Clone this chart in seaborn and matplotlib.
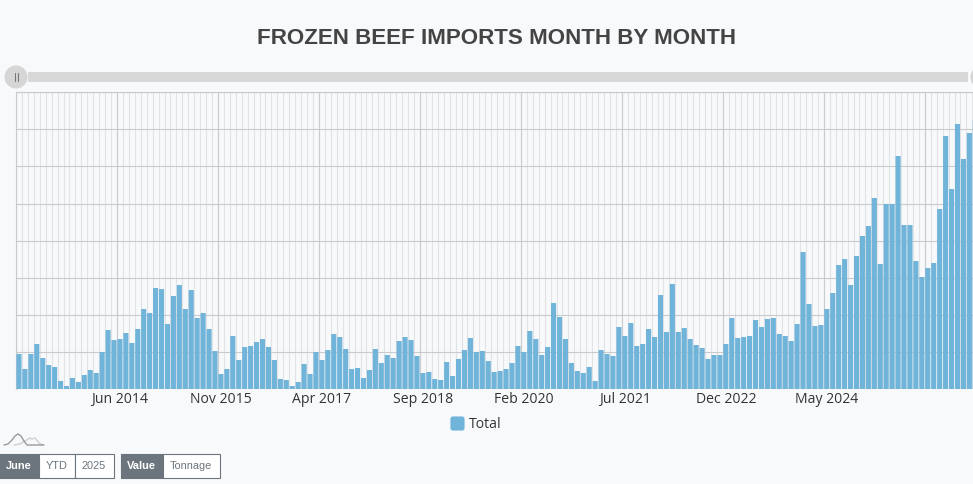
import matplotlib
matplotlib.use("Agg")
import matplotlib.pyplot as plt
from matplotlib.patches import Circle, FancyBboxPatch, Rectangle
import numpy as np
import pandas as pd
import seaborn as sns

# Monthly totals (y axis has no labels, so units are relative)
total = [
    35, 20, 35, 45, 31, 24, 22, 8, 3, 11, 7, 14, 19, 16, 37, 59, 49, 50, 56, 46,
    60, 80, 76, 101, 100, 65, 93, 104, 80, 99, 71, 76, 60, 38, 15, 20, 53, 29, 42, 43,
    47, 50, 42, 29, 10, 9, 3, 7, 25, 15, 37, 29, 39, 55, 52, 40, 20, 21, 11, 19,
    40, 26, 34, 31, 48, 52, 49, 33, 16, 17, 10, 9, 27, 13, 30, 39, 51, 37, 38, 28,
    17, 18, 20, 26, 43, 37, 58, 50, 34, 42, 86, 72, 50, 26, 18, 16, 22, 8, 39, 35,
    33, 62, 53, 66, 43, 45, 60, 52, 94, 57, 105, 57, 61, 50, 44, 41, 30, 34, 34, 45,
    71, 51, 52, 53, 69, 62, 70, 71, 55, 53, 48, 65, 137, 85, 63, 64, 80, 96, 124, 130,
    104, 133, 153, 163, 191, 125, 185, 185, 233, 164, 164, 128, 112, 121, 126, 180, 253, 200, 265, 230,
    256, 269,
]
months = pd.date_range("2013-01-01", periods=len(total), freq="MS").strftime("%b %Y")

tick_every = 17
tick_labels = ["Jun 2014", "Nov 2015", "Apr 2017", "Sep 2018", "Feb 2020", "Jul 2021", "Dec 2022", "May 2024"]
tick_positions = [tick_every * (i + 1) for i in range(len(tick_labels))]

period_buttons = ["June", "YTD", "2025"]
measure_buttons = ["Value", "Tonnage"]

BG = "#f8f9fb"
BAR = "#70b4da"
DARK = "#6c757d"
W, H = 973, 484

sns.set_theme(style="white")
plt.rcParams["font.family"] = ["Liberation Sans", "DejaVu Sans"]

fig = plt.figure(figsize=(W / 100, H / 100), dpi=100, facecolor=BG)

# plot area in pixels: x 16-973, y 92-389
ax = fig.add_axes([16 / W, 1 - 389 / H, (W - 16) / W, 297 / H], facecolor=BG)
df = pd.DataFrame({"month": months, "total": total})
sns.barplot(data=df, x="month", y="total", color=BAR, saturation=1, width=0.86, linewidth=0, ax=ax, zorder=3)
for bar in ax.patches:
    bar.set_snap(False)

ax.set_xlim(-0.5, -0.5 + (W - 16) / 5.94)
ax.set_ylim(0, 297)
ax.set_xlabel("")
ax.set_ylabel("")
ax.set_axisbelow(True)

# light line on every band edge, darker one on every 17th
ax.set_xticks(np.arange(len(total)) - 0.5, minor=True)
ax.grid(which="minor", axis="x", color="#e2e3e6", lw=0.8)
ax.set_xticks(tick_positions, tick_labels, fontsize=10.1, color="#333333", family="Open Sans")
ax.tick_params(axis="x", which="both", length=0, pad=2)
ax.vlines(np.arange(0, len(total), tick_every) - 0.5, 0, 297, color="#cbccd0", lw=0.8, zorder=1)
ax.set_yticks(np.arange(0, 297, 37.1))
ax.set_yticklabels([])
ax.tick_params(axis="y", length=0)
ax.grid(which="major", axis="y", color="#c9cace", lw=0.8)
for side in ["right", "bottom"]:
    ax.spines[side].set_visible(False)
for side in ["left", "top"]:
    ax.spines[side].set_color("#c9cace")
    ax.spines[side].set_linewidth(0.8)

# overlay in pixel coordinates for the page furniture around the chart
ui = fig.add_axes([0, 0, 1, 1], facecolor="none")
ui.set_xlim(0, W)
ui.set_ylim(H, 0)
ui.axis("off")

ui.text(496.5, 38, "FROZEN BEEF IMPORTS MONTH BY MONTH", ha="center", va="center",
        fontsize=16.1, fontweight="bold", color="#444444")

# range slider
ui.add_patch(Rectangle((28, 72), 940, 10, color="#d8d8d8", lw=0))
ui.add_patch(Circle((16, 77), 11.5, color="#d6d6d6", lw=0))
ui.add_patch(Circle((982, 77), 11.5, color="#d6d6d6", lw=0))
ui.plot([14.5, 14.5], [73, 81], color="#777777", lw=0.8)
ui.plot([17.5, 17.5], [73, 81], color="#777777", lw=0.8)

# legend
ui.add_patch(FancyBboxPatch((451, 417), 13, 13, boxstyle="round,pad=0,rounding_size=2", color=BAR, lw=0.8))
ui.text(469, 425, "Total", ha="left", va="center", fontsize=10.1, color="#333333", family="Open Sans")

# small sparkline icon
ui.plot([14, 20, 25, 30, 32, 35, 39, 43], [445, 444, 441, 438, 439, 438, 443, 445], color="#cfcfcf", lw=1)
ui.plot([4, 8, 12, 15, 18, 21, 24, 27, 32, 44], [445, 444, 440, 436, 434, 436, 441, 445, 445, 445],
        color="#9a9a9a", lw=1)


def button(x0, x1, label, active):
    ui.add_patch(Rectangle((x0, 453.5), x1 - x0, 24, facecolor=DARK if active else "white",
                           edgecolor=DARK, lw=0.8))
    ui.text((x0 + x1) / 2, 466, label, ha="center", va="center", fontsize=7.9,
            color="white" if active else DARK, fontweight="bold" if active else "normal")


for (x0, x1), label in zip([(-2, 38.5), (38.5, 74.5), (74.5, 113.5)], period_buttons):
    button(x0, x1, label, label == "June")
for (x0, x1), label in zip([(120.5, 163), (163, 219.5)], measure_buttons):
    button(x0, x1, label, label == "Value")

fig.savefig("out.png", dpi=100, facecolor=BG)
